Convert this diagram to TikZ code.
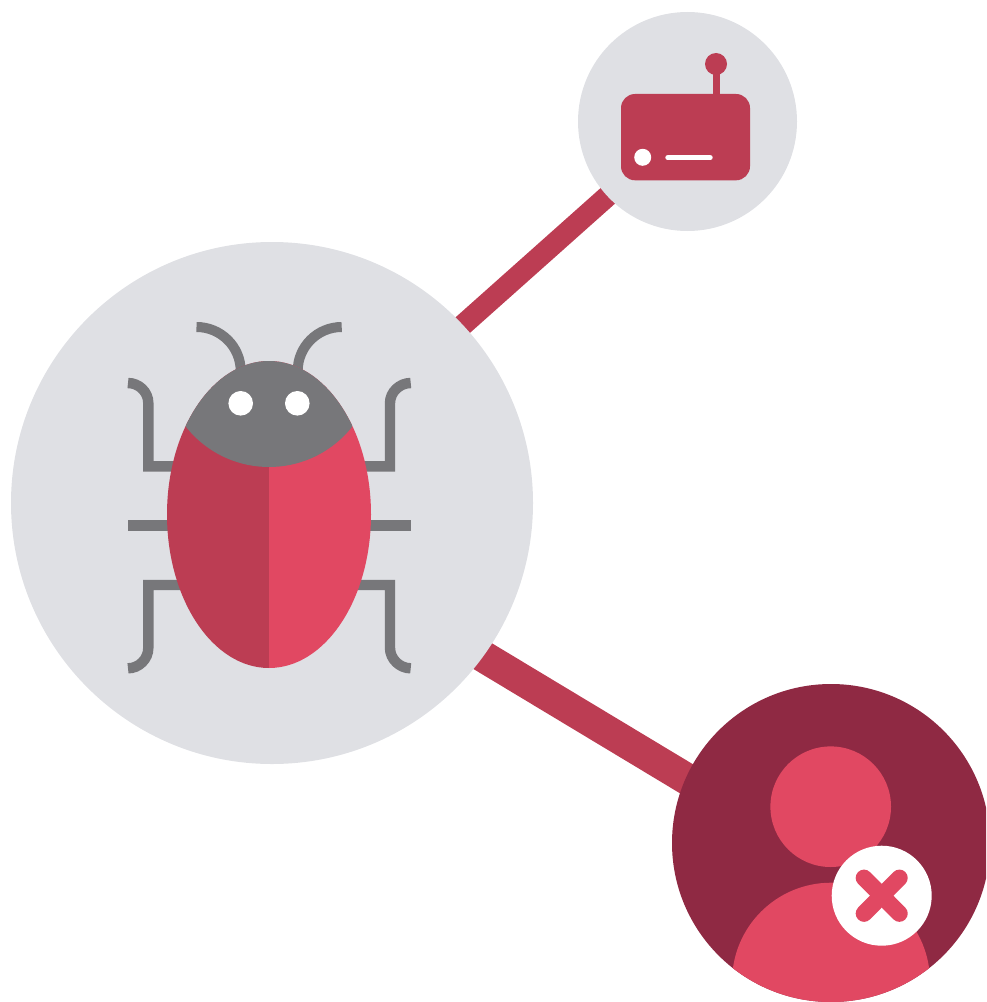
\documentclass[tikz,border=0pt]{standalone}
\usetikzlibrary{backgrounds}
\definecolor{disc}{HTML}{DFE0E4}
\definecolor{redD}{HTML}{BC3D53}
\definecolor{redL}{HTML}{E14862}
\definecolor{maroon}{HTML}{8F2943}
\definecolor{bugGray}{HTML}{77777A}
\tikzset{
  x=0.75pt,y=-0.75pt,
  hub/.style={circle,draw=none,inner sep=0pt,outer sep=0pt,minimum size=#1*0.75pt},
  link/.style={draw=redD,line cap=butt,shorten <=-5pt,shorten >=-5pt},
  leg/.style={draw=bugGray,line width=7.8pt,line join=miter,line cap=butt},
  feeler/.style={draw=bugGray,line width=7.5pt,line cap=butt}
}
\begin{document}
\begin{tikzpicture}
\path[use as bounding box,clip] (0,0) rectangle (986,1002);
% discs
\node[hub=522,fill=disc] (bug) at (272,503) {};
\node[hub=219,fill=disc] (router) at (687.5,121.5) {};
\node[hub=318,fill=maroon] (user) at (831,843) {};
% connectors behind the discs
\begin{scope}[on background layer]
  \draw[link,line width=15.9pt] (bug.43.2) -- (router.223.6);
  \draw[link,line width=23.7pt] (bug.-36.1) -- (user.156.5);
\end{scope}
% bug legs
\draw[leg] (128,383) .. controls (139,383) and (148.3,392) .. (148.3,403) -- (148.3,466.3) -- (190,466.3);
\draw[leg] (410.7,383) .. controls (399.7,383) and (390,392) .. (390,403) -- (390,466.3) -- (350,466.3);
\draw[leg] (128,525.5) -- (410.7,525.5);
\draw[leg] (128,668.3) .. controls (139,668.3) and (148.3,659) .. (148.3,648) -- (148.3,585) -- (195,585);
\draw[leg] (410.7,668.3) .. controls (399.7,668.3) and (390,659) .. (390,648) -- (390,585) -- (345,585);
% antennae
\draw[feeler] (196.5,327) .. controls (220.8,327) and (240.7,346.7) .. (240.7,371) -- (240.7,385);
\draw[feeler] (341.7,327) .. controls (317.4,327) and (297.7,346.7) .. (297.7,371) -- (297.7,385);
% body
\begin{scope}
  \clip (269,514.5) ellipse [x radius=102,y radius=153.5];
  \fill[redD] (160,350) rectangle (269,680);
  \fill[redL] (269,350) rectangle (380,680);
  \fill[bugGray] (269,361) circle [radius=106];
\end{scope}
\fill[white] (240.7,403.3) circle [radius=12.3];
\fill[white] (297.3,403.3) circle [radius=12.3];
% router
\draw[redD,line width=5.2pt] (716.3,100) -- (716.3,64);
\fill[redD] (716,64) circle [radius=11];
\fill[redD,rounded corners=10.5pt] (621,94) rectangle (750,180.3);
\fill[white] (642.7,157.3) circle [radius=8.5];
\draw[white,line width=4.1pt,line cap=round] (668,157.7) -- (710,157.7);
% user
\begin{scope}
  \clip (831,843) circle [radius=159];
  \fill[redL] (831,981.7) circle [radius=99];
\end{scope}
\fill[redL] (830.7,806.7) circle [radius=60.3];
\fill[white] (881.7,895.7) circle [radius=50];
\draw[redL,line width=12.5pt,line cap=round] (864,877.9) -- (899.4,913.5);
\draw[redL,line width=12.5pt,line cap=round] (899.4,877.9) -- (864,913.5);
\end{tikzpicture}
\end{document}
